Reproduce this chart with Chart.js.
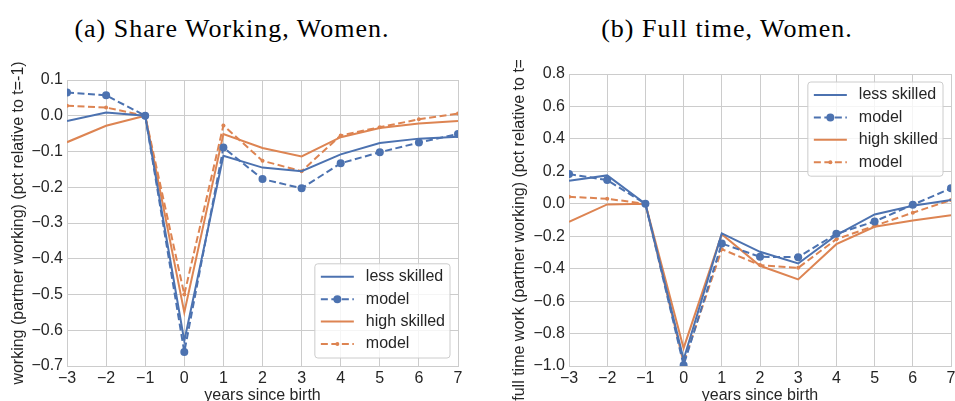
<!DOCTYPE html>
<html lang="en">
<head>
    <meta charset="UTF-8">
    <title>Share Working / Full time, Women</title>
    <script src="https://cdn.jsdelivr.net/npm/chart.js"></script>
    <style>
        body {
            margin: 0;
            width: 955px;
            height: 401px;
            overflow: hidden;
            background-color: #fff;
            position: relative;
        }

        .panel-title {
            position: absolute;
            top: 16px;
            font-family: 'Liberation Serif', 'Times New Roman', serif;
            font-size: 26px;
            line-height: 1;
            letter-spacing: 1px;
            color: #000;
            white-space: nowrap;
            transform: translateX(-50%);
        }

        .chart-box {
            position: absolute;
            top: 60px;
            height: 350px;
        }
    </style>
</head>
<body>
    <div class="panel-title" style="left: 232px;">(a) Share Working, Women.</div>
    <div class="panel-title" style="left: 727px;">(b) Full time, Women.</div>

    <div class="chart-box" style="left: 0; width: 480px;">
        <canvas id="chart-working" width="480" height="350"></canvas>
    </div>
    <div class="chart-box" style="left: 480px; width: 475px;">
        <canvas id="chart-fulltime" width="475" height="350"></canvas>
    </div>

    <script>
        // Dados
        const years = [-3, -2, -1, 0, 1, 2, 3, 4, 5, 6, 7];

        // (a) share working
        const workLess      = [-0.015, 0.009, 0, -0.630, -0.112, -0.145, -0.155, -0.108, -0.076, -0.064, -0.059];
        const workLessModel = [0.065, 0.057, 0, -0.661, -0.089, -0.177, -0.203, -0.133, -0.102, -0.075, -0.051];
        const workHigh      = [-0.074, -0.028, 0, -0.550, -0.051, -0.090, -0.114, -0.060, -0.034, -0.022, -0.015];
        const workHighModel = [0.028, 0.023, 0, -0.500, -0.027, -0.126, -0.155, -0.055, -0.032, -0.010, 0.006];

        // (b) full time
        const ftLess      = [0.142, 0.175, 0, -0.960, -0.183, -0.296, -0.368, -0.193, -0.066, -0.012, 0.023];
        const ftLessModel = [0.183, 0.146, 0, -0.995, -0.245, -0.327, -0.329, -0.185, -0.109, -0.006, 0.095];
        const ftHigh      = [-0.111, -0.004, 0, -0.890, -0.187, -0.382, -0.466, -0.249, -0.142, -0.103, -0.070];
        const ftHighModel = [0.043, 0.031, 0, -0.980, -0.280, -0.378, -0.395, -0.218, -0.136, -0.055, 0.023];

        const seriesLabels = ['less skilled', 'model', 'high skilled', 'model'];

        const BLUE = '#4C72B0';
        const ORANGE = '#DD8452';
        const GRID = '#cccccc';
        const TEXT = '#262626';

        Chart.defaults.font.family = "'Liberation Sans', Arial, sans-serif";
        Chart.defaults.font.size = 16;
        Chart.defaults.color = TEXT;

        // Sinal de menos tipográfico, como no original
        function fmt(value, decimals) {
            const v = Math.round(value * 1000) / 1000;
            const s = Math.abs(v).toFixed(decimals);
            return (v < 0 ? '\u2212' : '') + s;
        }

        function toPoints(values) {
            return years.map((x, i) => ({ x: x, y: values[i] }));
        }

        function makeDatasets(less, lessModel, high, highModel) {
            return [
                {
                    label: seriesLabels[0], data: toPoints(less),
                    borderColor: BLUE, backgroundColor: BLUE,
                    borderWidth: 2, pointRadius: 0, tension: 0, clip: 0
                },
                {
                    label: seriesLabels[1], data: toPoints(lessModel),
                    borderColor: BLUE, backgroundColor: BLUE, borderDash: [7, 3.5],
                    borderWidth: 2, pointRadius: 4, pointBorderWidth: 0, tension: 0, clip: 0
                },
                {
                    label: seriesLabels[2], data: toPoints(high),
                    borderColor: ORANGE, backgroundColor: ORANGE,
                    borderWidth: 2, pointRadius: 0, tension: 0, clip: 0
                },
                {
                    label: seriesLabels[3], data: toPoints(highModel),
                    borderColor: ORANGE, backgroundColor: ORANGE, borderDash: [7, 3.5],
                    borderWidth: 2, pointRadius: 2, pointBorderWidth: 0, tension: 0, clip: 0
                }
            ];
        }

        // Legenda desenhada dentro da área do gráfico (estilo matplotlib)
        const innerLegend = {
            id: 'innerLegend',
            afterDraw(chart, args, opts) {
                const ctx = chart.ctx;
                const area = chart.chartArea;
                const rowH = 22.4;
                const padL = 6, sample = 33, gap = 12, padR = 5, padT = 13, padB = 14;

                ctx.save();
                ctx.font = "16px 'Liberation Sans', Arial, sans-serif";
                const items = chart.data.datasets;
                const textW = Math.max(...items.map(d => ctx.measureText(d.label).width));
                const w = padL + sample + gap + textW + padR;
                const h = padT + rowH * (items.length - 1) + padB;
                const x0 = area.right - 8 - w;
                const y0 = opts.anchor === 'lower right' ? area.bottom - 8 - h : area.top + 8;

                // caixa
                ctx.beginPath();
                ctx.roundRect(x0, y0, w, h, 3);
                ctx.fillStyle = 'rgba(255,255,255,0.8)';
                ctx.fill();
                ctx.strokeStyle = GRID;
                ctx.lineWidth = 1;
                ctx.stroke();

                items.forEach((d, i) => {
                    const cy = y0 + padT + rowH * i;
                    const sx = x0 + padL;
                    ctx.beginPath();
                    ctx.setLineDash(d.borderDash || []);
                    ctx.strokeStyle = d.borderColor;
                    ctx.lineWidth = d.borderWidth;
                    ctx.moveTo(sx, cy);
                    ctx.lineTo(sx + sample, cy);
                    ctx.stroke();
                    ctx.setLineDash([]);
                    if (d.pointRadius > 0) {
                        ctx.beginPath();
                        ctx.arc(sx + sample / 2, cy, d.pointRadius, 0, Math.PI * 2);
                        ctx.fillStyle = d.backgroundColor;
                        ctx.fill();
                    }
                    ctx.fillStyle = TEXT;
                    ctx.textBaseline = 'middle';
                    ctx.fillText(d.label, sx + sample + gap, cy);
                });
                ctx.restore();
            }
        };

        function renderChart(canvasId, datasets, cfg) {
            const ctx = document.getElementById(canvasId).getContext('2d');
            return new Chart(ctx, {
                type: 'line',
                data: { datasets: datasets },
                options: {
                    responsive: false,
                    animation: false,
                    devicePixelRatio: 1,
                    layout: { padding: { left: 0, right: cfg.padRight, top: cfg.padTop, bottom: 0 } },
                    plugins: {
                        legend: { display: false },
                        tooltip: { enabled: false },
                        innerLegend: { anchor: cfg.legendAnchor }
                    },
                    scales: {
                        x: {
                            type: 'linear',
                            min: -3, max: 7,
                            grid: { color: GRID, lineWidth: 1, drawTicks: false },
                            border: { color: GRID, width: 1 },
                            ticks: {
                                stepSize: 1, padding: 3, color: TEXT,
                                maxRotation: 0,
                                callback: v => fmt(v, 0)
                            },
                            title: {
                                display: true, text: 'years since birth', color: TEXT,
                                padding: { top: 0, bottom: 5 }
                            },
                            afterFit: s => {
                                s.height = 350 - 306;
                                s.paddingLeft = 0; s.paddingRight = 0;
                            }
                        },
                        y: {
                            min: cfg.yMin, max: cfg.yMax,
                            grid: { color: GRID, lineWidth: 1, drawTicks: false },
                            border: { color: GRID, width: 1 },
                            ticks: {
                                stepSize: cfg.yStep, padding: 4, color: TEXT,
                                callback: v => fmt(v, 1)
                            },
                            title: {
                                display: true, text: cfg.yTitle, color: TEXT,
                                padding: { top: cfg.yTitlePad, bottom: 0 }
                            },
                            afterFit: s => {
                                s.width = cfg.yWidth;
                                s.paddingTop = 0; s.paddingBottom = 0;
                            }
                        }
                    }
                },
                plugins: [innerLegend]
            });
        }

        renderChart('chart-working',
            makeDatasets(workLess, workLessModel, workHigh, workHighModel), {
                yMin: -0.7, yMax: 0.1, yStep: 0.1,
                yTitle: 'working (partner working) (pct relative to t=-1)',
                yWidth: 67, yTitlePad: 9,
                padTop: 20, padRight: 22,
                legendAnchor: 'lower right'
            });

        renderChart('chart-fulltime',
            makeDatasets(ftLess, ftLessModel, ftHigh, ftHighModel), {
                yMin: -1.0, yMax: 0.8, yStep: 0.2,
                yTitle: 'full time work (partner working) (pct relative to t=-1)',
                yWidth: 89, yTitlePad: 30,
                padTop: 14, padRight: 2,
                legendAnchor: 'upper right'
            });
    </script>
</body>
</html>
